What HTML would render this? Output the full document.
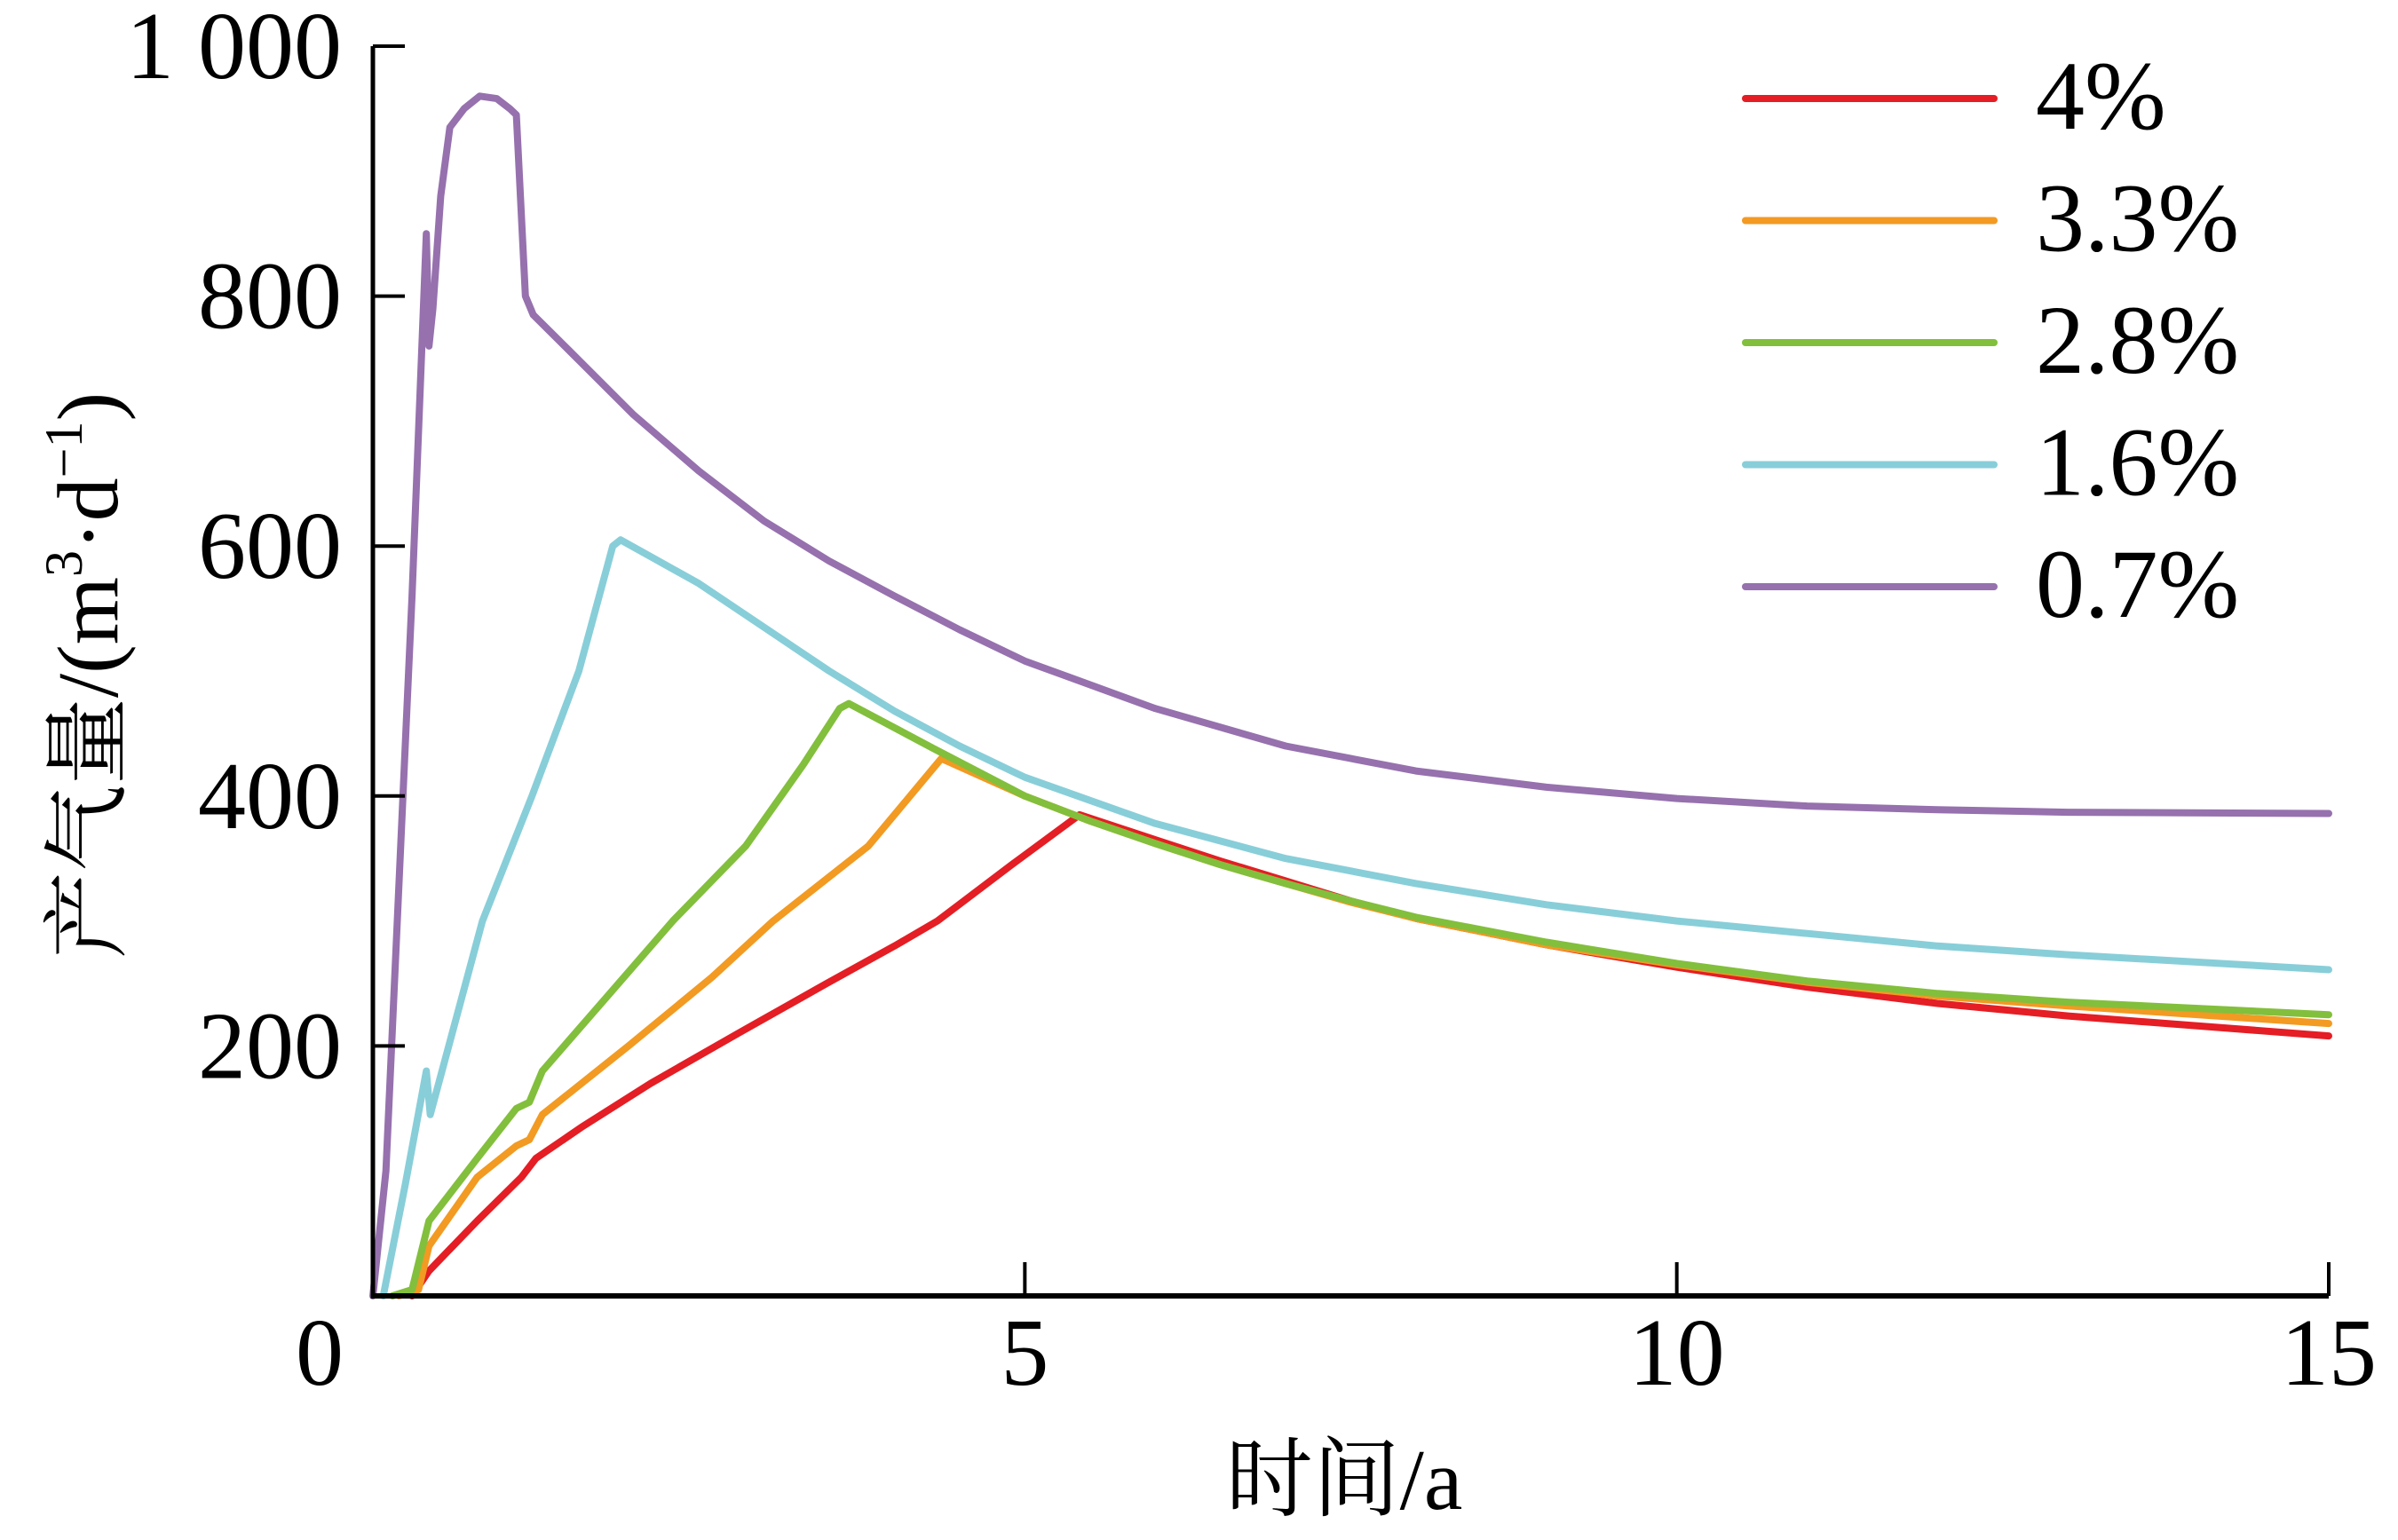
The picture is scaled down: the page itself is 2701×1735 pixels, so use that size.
<!DOCTYPE html>
<html><head><meta charset="utf-8"><style>
html,body{margin:0;padding:0;background:#fff;}
svg{display:block;}
text{font-family:"Liberation Serif","Noto Serif CJK SC",serif;fill:#000;}
</style></head><body>
<svg id="chart" width="2701" height="1735" viewBox="0 0 2701 1735" xmlns="http://www.w3.org/2000/svg">
<g id="plot"></g>
</svg>
<script>
const seriesNames = ["4%","3.3%","2.8%","1.6%","0.7%"];
const seriesColors = ["#e41e24","#f29a22","#82bf3c","#88ced9","#9671ae"];
const xTicks = [0,5,10,15];
const yTicks = [200,400,600,800,1000];
const yTickLabels = ["200","400","600","800","1 000"];
const t4 = [0.3,0.43,0.8,1.14,1.25,1.6,2.13,2.8,3.48,4.0,4.33,4.9,5.42,6.0,6.5,7.0,7.5,8.0,9.0,10,11,12,13,15];
const v4 = [0,20,60,95,110,135,170,210,250,280,300,345,385,365,348,332,316,302,281,263,247,234,224,208];
const t33 = [0.2,0.35,0.43,0.8,1.1,1.2,1.3,1.96,2.6,3.07,3.8,4.36,5,5.5,6.0,6.5,7.0,7.5,8.0,9.0,10,11,12,13,15];
const v33 = [0,5,40,95,120,125,145,200,255,300,360,430,400,380,362,345,330,315,302,281,265,251,240,232,218];
const t28 = [0.15,0.3,0.43,0.8,1.1,1.2,1.3,1.8,2.3,2.86,3.3,3.58,3.65,4.3,5,5.5,6.0,6.5,7.0,7.5,8.0,9.0,10,11,12,13,15];
const v28 = [0,5,60,110,150,155,180,240,300,360,425,470,474,438,400,380,362,345,330,316,303,283,266,252,242,235,225];
const t16 = [0.08,0.25,0.41,0.44,0.84,1.22,1.58,1.84,1.9,2.5,3.0,3.5,4.0,4.5,5,6,7,8,9,10,11,12,13,15];
const v16 = [0,90,180,145,300,400,500,600,605,570,535,500,468,440,415,378,350,330,313,300,290,280,273,261];
const t07 = [0.0,0.1,0.3,0.41,0.43,0.46,0.52,0.59,0.7,0.82,0.95,1.05,1.1,1.17,1.23,1.5,2.0,2.5,3.0,3.5,4.0,4.5,5.0,6.0,7.0,8.0,9.0,10,11,12,13,15];
const v07 = [0,100,560,850,760,790,880,935,950,960,958,950,945,800,785,757,705,660,620,588,560,533,508,470,440,420,407,398,392,389,387,386];
const allT = [t4,t33,t28,t16,t07];
const allV = [v4,v33,v28,v16,v07];

const X0=420, X1=2623, Y0=1460, Y1=52;
function sx(t){return X0+(t-0)/(15-0)*(X1-X0);}
function sy(v){return Y0-(v-0)/(1000-0)*(Y0-Y1);}
const NS="http://www.w3.org/2000/svg";
const g=document.getElementById('plot');
function mk(tag,attrs){const e=document.createElementNS(NS,tag);for(const k in attrs)e.setAttribute(k,attrs[k]);g.appendChild(e);return e;}

for(let s=0;s<5;s++){
  let d="";
  for(let i=0;i<allT[s].length;i++){d+=(i?"L":"M")+sx(allT[s][i]).toFixed(1)+","+sy(allV[s][i]).toFixed(1);}
  const p=mk('path',{d:d,fill:'none',stroke:seriesColors[s],'stroke-width':8,'stroke-linejoin':'round','stroke-linecap':'round'});
  
  
}
const ax=mk('line',{x1:X0,y1:Y0,x2:X1,y2:Y0,stroke:'#000','stroke-width':6});


const ay=mk('line',{x1:X0,y1:Y0+3,x2:X0,y2:Y1,stroke:'#000','stroke-width':5});


for(let i=0;i<xTicks.length;i++){
  const x=sx(xTicks[i]);
  if(i>0){const tk=mk('line',{x1:x,y1:Y0,x2:x,y2:Y0-38,stroke:'#000','stroke-width':4});
  
  }
  const tl=mk('text',{x:x-(i==0?60:0),y:1560,'font-size':108,'text-anchor':'middle'});
  tl.textContent=xTicks[i];
  
  
}
for(let i=0;i<yTicks.length;i++){
  const y=sy(yTicks[i]);
  const tk=mk('line',{x1:X0,y1:y,x2:X0+36,y2:y,stroke:'#000','stroke-width':4});
  
  
  const tl=mk('text',{x:385,y:y+36,'font-size':108,'text-anchor':'end'});
  tl.textContent=yTickLabels[i];
  
  
}
const xt=mk('text',{x:1514,y:1700,'font-size':98,'text-anchor':'middle'});
xt.textContent='时间/a';


const yt=mk('text',{x:0,y:0,'font-size':98,'text-anchor':'middle',transform:'translate(132,761) rotate(-90)'});
yt.innerHTML='产气量/(m<tspan font-size="60" dy="-40">3</tspan><tspan dy="40">·d</tspan><tspan font-size="60" dy="-40">−1</tspan><tspan dy="40">)</tspan>';


for(let s=0;s<5;s++){
  const y=111+s*137.5;
  const l=mk('line',{x1:1966,y1:y,x2:2246,y2:y,stroke:seriesColors[s],'stroke-width':8,'stroke-linecap':'round'});
  
  
  const t=mk('text',{x:2293,y:y+34,'font-size':110});
  t.textContent=seriesNames[s];
  
  
}
</script>
</body></html>
